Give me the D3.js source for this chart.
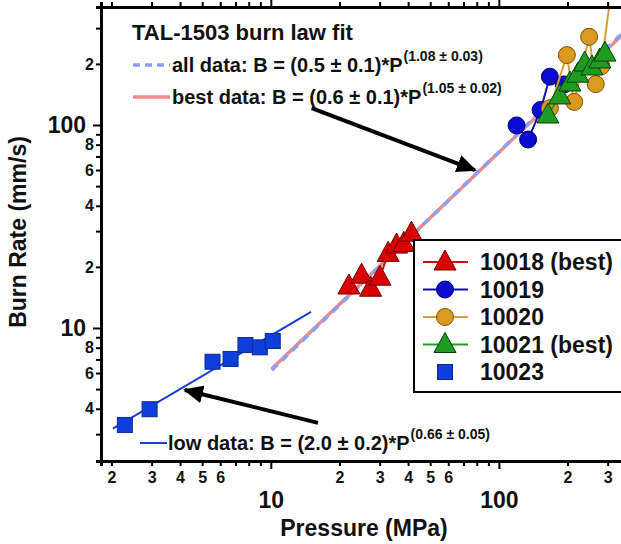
<!DOCTYPE html>
<html>
<head>
<meta charset="utf-8">
<script src="https://cdn.jsdelivr.net/npm/d3@7"></script>
<style>
  body { margin: 0; background: #fff; }
  text { font-family: "Liberation Sans", Arial, sans-serif; font-weight: bold; fill: #111; }
</style>
</head>
<body>
<div id="chart"></div>
<script>
// each point: [pressure (MPa), burn rate (mm/s)]
var run10018 = [[22.0,16.1],[25.0,18.2],[27.4,15.7],[30.1,17.8],[32.7,23.3],[35.6,25.6],[38.3,26.1],[41.4,29.3]];
var run10019 = [[119.6,99.5],[134.4,84.8],[152.5,118.6],[167.4,173],[192.8,158.5]];
var run10020 = [[167.4,121],[198.7,221],[214,130],[248.8,272],[266,159],[281.6,195],[340,1000]];
var run10021 = [[164,112],[185,139],[205,161],[222,178],[238,202],[256,193],[277,209],[292,226]];
var run10023 = [[2.29,3.33],[2.94,3.98],[5.55,6.82],[6.66,7.04],[7.74,8.24],[8.95,8.03],[10.2,8.63]];

// fitted power-law lines, end points
var fitLow  = [[2.03,3.19],[15,12.0]];
var fitAll  = [[10.1,6.2],[350,285]];
var fitBest = [[10.1,6.3],[350,280]];

// annotation arrows [from, to]
var arrowHigh = [[15.1,121],[78.5,60]];
var arrowLow  = [[16.1,3.41],[4.2,4.95]];

var xTicks = [2,3,4,5,6,7,8,9,10,20,30,40,50,60,70,80,90,100,200,300];
var xLabels = {2:"2",3:"3",4:"4",5:"5",6:"6",10:"10",20:"2",30:"3",40:"4",50:"5",60:"6",100:"100",200:"2",300:"3"};
var yTicks = [3,4,5,6,7,8,9,10,20,30,40,50,60,70,80,90,100,200,300];
var yLabels = {4:"4",6:"6",8:"8",10:"10",20:"2",40:"4",60:"6",80:"8",100:"100",200:"2"};
var decades = [10,100];

var W = 621, H = 544;
var mLeft = 101, mTop = 7, mBottom = 461, mRight = 660;

var svg = d3.select("#chart").append("svg")
  .attr("width", W)
  .attr("height", H);

var x = d3.scaleLog().domain([1.8, 509]).range([mLeft, mRight]);
var y = d3.scaleLog().domain([2.212, 381.3]).range([mBottom, mTop]);

svg.append("clipPath").attr("id","plotclip")
  .append("rect").attr("x",mLeft).attr("y",mTop).attr("width",mRight-mLeft).attr("height",mBottom-mTop);

var plot = svg.append("g").attr("clip-path","url(#plotclip)");
var line = d3.line().x(function(d){ return x(d[0]); }).y(function(d){ return y(d[1]); });

// fit lines
plot.append("path").datum(fitBest).attr("d", line)
  .attr("fill","none").attr("stroke","#f08a8a").attr("stroke-width",3.5);
plot.append("path").datum(fitAll).attr("d", line)
  .attr("fill","none").attr("stroke","#8e9ef0").attr("stroke-width",3.5).attr("stroke-dasharray","8,6");
plot.append("path").datum(fitLow).attr("d", line)
  .attr("fill","none").attr("stroke","#1a3fd0").attr("stroke-width",2);

function tri(s) {
  return "M0," + (-s*0.6) + "L" + (s*0.55) + "," + (s*0.4) + "L" + (-s*0.55) + "," + (s*0.4) + "Z";
}

function drawSeries(data, lineColor, fill, stroke, shape) {
  plot.append("path").datum(data).attr("d", line)
    .attr("fill","none").attr("stroke",lineColor).attr("stroke-width",2);
  var g = plot.append("g");
  data.forEach(function(d) {
    var px = x(d[0]), py = y(d[1]);
    if (shape == "circle") {
      g.append("circle").attr("cx",px).attr("cy",py).attr("r",8.5)
        .attr("fill",fill).attr("stroke",stroke).attr("stroke-width",1);
    } else {
      g.append("path").attr("d", tri(20)).attr("transform","translate(" + px + "," + py + ")")
        .attr("fill",fill).attr("stroke",stroke).attr("stroke-width",1);
    }
  });
}

drawSeries(run10018, "#cc1010", "#d80000", "#700000", "tri");
drawSeries(run10019, "#1010b0", "#0a0ad0", "#00006a", "circle");
drawSeries(run10020, "#d9a030", "#da9a20", "#7a5000", "circle");
drawSeries(run10021, "#20a020", "#1f9c1f", "#0a3f0a", "tri");

plot.selectAll("rect.sq").data(run10023).enter().append("rect")
  .attr("class","sq")
  .attr("x", function(d){ return x(d[0]) - 7.5; })
  .attr("y", function(d){ return y(d[1]) - 7.5; })
  .attr("width",15).attr("height",15)
  .attr("fill","#0f3fd8").attr("stroke","#0a2a9a").attr("stroke-width",1);

// axes
var xAxis = d3.axisBottom(x).tickValues(xTicks).tickSize(5)
  .tickFormat(function(d){ return xLabels[d] || ""; });
var gx = svg.append("g").attr("transform","translate(0," + mBottom + ")").call(xAxis);
gx.selectAll(".tick text").attr("font-size",16).attr("dy","0.9em").attr("y",8);
gx.selectAll(".tick").filter(function(d){ return decades.indexOf(d) >= 0; })
  .each(function() {
    d3.select(this).select("line").attr("y2",8);
    d3.select(this).select("text").attr("font-size",23).attr("y",26);
  });

var xTop = d3.axisTop(x).tickValues(xTicks).tickSize(5).tickFormat("");
var gt = svg.append("g").attr("transform","translate(0," + mTop + ")").call(xTop);
gt.selectAll(".tick").filter(function(d){ return decades.indexOf(d) >= 0; })
  .select("line").attr("y2",-8);

var yAxis = d3.axisLeft(y).tickValues(yTicks).tickSize(5)
  .tickFormat(function(d){ return yLabels[d] || ""; });
var gy = svg.append("g").attr("transform","translate(" + mLeft + ",0)").call(yAxis);
gy.selectAll(".tick text").attr("font-size",16).attr("x",-7);
gy.selectAll(".tick").filter(function(d){ return decades.indexOf(d) >= 0; })
  .each(function() {
    d3.select(this).select("line").attr("x2",-8);
    d3.select(this).select("text").attr("font-size",23).attr("x",-15);
  });

[gx, gt, gy].forEach(function(g) {
  g.select(".domain").attr("stroke","#000").attr("stroke-width",3);
  g.selectAll(".tick line").attr("stroke","#000").attr("stroke-width",2);
  g.selectAll(".tick text").attr("fill","#111").attr("font-family","'Liberation Sans', Arial, sans-serif").attr("font-weight","bold");
});

// axis titles
svg.append("text").attr("x",364).attr("y",536).attr("text-anchor","middle")
  .attr("font-size",23).text("Pressure (MPa)");
svg.append("text").attr("transform","translate(26,232) rotate(-90)").attr("text-anchor","middle")
  .attr("font-size",23).text("Burn Rate (mm/s)");

// arrows
svg.append("defs").append("marker").attr("id","head")
  .attr("viewBox","0 0 10 10").attr("refX",9).attr("refY",5)
  .attr("markerWidth",5).attr("markerHeight",4.5).attr("orient","auto")
  .attr("preserveAspectRatio","none")
  .append("path").attr("d","M0,0L10,5L0,10Z").attr("fill","#000");
[arrowHigh, arrowLow].forEach(function(a) {
  svg.append("line")
    .attr("x1",x(a[0][0])).attr("y1",y(a[0][1]))
    .attr("x2",x(a[1][0])).attr("y2",y(a[1][1]))
    .attr("stroke","#000").attr("stroke-width",4).attr("marker-end","url(#head)");
});

// fit annotations
svg.append("text").attr("x",132).attr("y",40).attr("font-size",22).text("TAL-1503 burn law fit");

function fitLabel(yc, sample, main, sup) {
  var s = svg.append("line").attr("x1",133).attr("x2",170).attr("y1",yc).attr("y2",yc)
    .attr("stroke-width",3.5);
  if (sample == "all") s.attr("stroke","#8e9ef0").attr("stroke-dasharray","7,5");
  else if (sample == "best") s.attr("stroke","#f08a8a");
  else s.attr("x1",140).attr("x2",167).attr("stroke","#1a3fd0").attr("stroke-width",2);
  var t = svg.append("text").attr("x", sample == "low" ? 168 : 172).attr("y",yc + 7).attr("font-size",20);
  t.append("tspan").text(main);
  t.append("tspan").attr("font-size",14).attr("dy",-11).attr("dx",1).text(sup);
}
fitLabel(65, "all", "all data: B = (0.5 \u00b1 0.1)*P", "(1.08 \u00b1 0.03)");
fitLabel(97, "best", "best data: B = (0.6 \u00b1 0.1)*P", "(1.05 \u00b1 0.02)");
fitLabel(443, "low", "low data: B = (2.0 \u00b1 0.2)*P", "(0.66 \u00b1 0.05)");

// legend
var legend = svg.append("g").attr("transform","translate(414,240)");
legend.append("rect").attr("width",240).attr("height",152)
  .attr("fill","#fff").attr("stroke","#000").attr("stroke-width",2);
var legendItems = [
  {name:"10018 (best)", line:"#cc1010", fill:"#d80000", stroke:"#700000", shape:"tri"},
  {name:"10019", line:"#1010b0", fill:"#0a0ad0", stroke:"#00006a", shape:"circle"},
  {name:"10020", line:"#d9a030", fill:"#da9a20", stroke:"#7a5000", shape:"circle"},
  {name:"10021 (best)", line:"#20a020", fill:"#1f9c1f", stroke:"#0a3f0a", shape:"tri"},
  {name:"10023", line:null, fill:"#0f3fd8", stroke:"#0a2a9a", shape:"square"}
];
legendItems.forEach(function(it, i) {
  var row = legend.append("g").attr("transform","translate(0," + (22 + i*27.5) + ")");
  if (it.line) row.append("line").attr("x1",9).attr("x2",54).attr("stroke",it.line).attr("stroke-width",2);
  if (it.shape == "circle") row.append("circle").attr("cx",31).attr("r",8.5).attr("fill",it.fill).attr("stroke",it.stroke);
  else if (it.shape == "tri") row.append("path").attr("d",tri(20)).attr("transform","translate(31,0)").attr("fill",it.fill).attr("stroke",it.stroke);
  else row.append("rect").attr("x",23.5).attr("y",-7.5).attr("width",15).attr("height",15).attr("fill",it.fill).attr("stroke",it.stroke);
  row.append("text").attr("x",66).attr("y",8).attr("font-size",23).text(it.name);
});
</script>
</body>
</html>
